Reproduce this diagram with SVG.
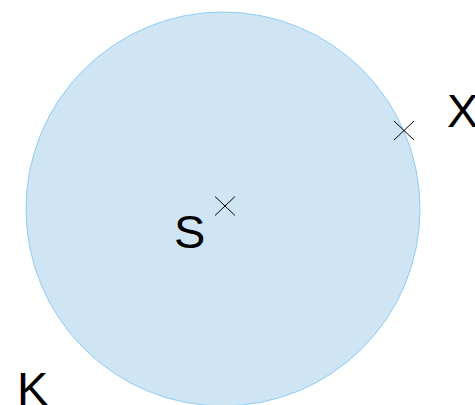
<svg xmlns="http://www.w3.org/2000/svg" width="475" height="405" viewBox="0 0 475 405">
<style>
.lbl{font-family:"Liberation Sans",Arial,sans-serif;font-size:47px;fill:#000}
.cross{stroke:#000;stroke-width:1;fill:none}
</style>
<rect width="475" height="405" fill="#fff"/>
<g id="K">
<circle cx="223" cy="209" r="197" fill="#cfe5f4" stroke="#8ecdf7" stroke-width="1"/>
<text class="lbl" x="17" y="405">K</text>
</g>
<g id="S">
<path class="cross" d="M215,196.5L235,215.5M215,215.5L235,196.5"/>
<text class="lbl" x="174" y="248">S</text>
</g>
<g id="X">
<path class="cross" d="M394,121L414,140M394,140L414,121"/>
<text class="lbl" x="447" y="127">X</text>
</g>
<g id="connectors"/>
</svg>
